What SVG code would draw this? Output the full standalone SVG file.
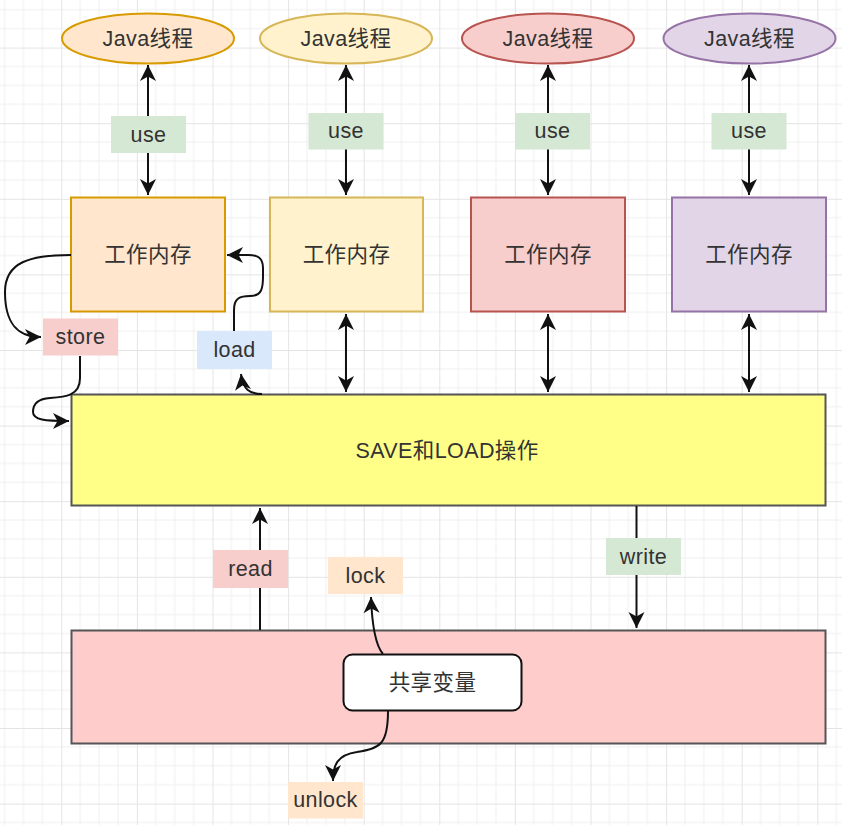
<svg xmlns="http://www.w3.org/2000/svg" width="842" height="825" viewBox="0 0 842 825">
<defs>
<pattern id="grid" width="75.6" height="75.6" patternUnits="userSpaceOnUse" patternTransform="translate(61.3,47.6)">
<path d="M18.9,0V75.6M37.8,0V75.6M56.7,0V75.6M0,18.9H75.6M0,37.8H75.6M0,56.7H75.6" stroke="#efefef" stroke-width="1" fill="none"/>
<path d="M0.5,0V75.6M0,0.5H75.6" stroke="#e4e4e4" stroke-width="1" fill="none"/>
</pattern>
<marker id="arr" viewBox="-17 -9 18 18" refX="0" refY="0" markerWidth="18" markerHeight="18" markerUnits="userSpaceOnUse" orient="auto-start-reverse">
<path d="M0,0 L-16,-8 L-11.5,0 L-16,8 Z" fill="#111"/>
</marker>
</defs>
<style>
text{font-family:"Liberation Sans","Noto Sans CJK SC",Arial,sans-serif;font-size:21.5px;fill:#333333;text-anchor:middle;dominant-baseline:central;letter-spacing:0.4px}
.c{fill:none;stroke:#111;stroke-width:2}
.lbl{stroke:none}
.node{stroke-width:2}
</style>
<rect width="842" height="825" fill="#ffffff"/>
<rect width="842" height="825" fill="url(#grid)"/>

<g id="thread1"><ellipse cx="148" cy="38.5" rx="86" ry="25" fill="#ffe6cc" stroke="#d79b00" class="node"/><text x="148" y="39">Java线程</text></g>
<g id="thread2"><ellipse cx="346" cy="38.5" rx="86" ry="25" fill="#fff2cc" stroke="#d6b656" class="node"/><text x="346" y="39">Java线程</text></g>
<g id="thread3"><ellipse cx="548" cy="38.5" rx="86" ry="25" fill="#f8cecc" stroke="#b85450" class="node"/><text x="548" y="39">Java线程</text></g>
<g id="thread4"><ellipse cx="749.5" cy="38.5" rx="86" ry="25" fill="#e1d5e7" stroke="#9673a6" class="node"/><text x="749.5" y="39">Java线程</text></g>

<g id="mem1"><rect x="71" y="197.5" width="154" height="114" fill="#ffe6cc" stroke="#d79b00" class="node"/><text x="148" y="255">工作内存</text></g>
<g id="mem2"><rect x="270" y="197.5" width="153" height="114" fill="#fff2cc" stroke="#d6b656" class="node"/><text x="346.5" y="255">工作内存</text></g>
<g id="mem3"><rect x="471" y="197.5" width="154" height="114" fill="#f8cecc" stroke="#b85450" class="node"/><text x="548" y="255">工作内存</text></g>
<g id="mem4"><rect x="672" y="197.5" width="154" height="114" fill="#e1d5e7" stroke="#9673a6" class="node"/><text x="749" y="255">工作内存</text></g>

<g id="saveload"><rect x="71.5" y="394.5" width="754" height="111" fill="#ffff88" stroke="#555" class="node"/><text x="447" y="451">SAVE和LOAD操作</text></g>
<g id="mainmem"><rect x="71.5" y="630.5" width="754" height="113" fill="#ffcccc" stroke="#555" class="node"/></g>

<g id="connectors">
<path class="c" d="M148,65 V195" marker-start="url(#arr)" marker-end="url(#arr)"/>
<path class="c" d="M346,65 V195" marker-start="url(#arr)" marker-end="url(#arr)"/>
<path class="c" d="M548,65 V195" marker-start="url(#arr)" marker-end="url(#arr)"/>
<path class="c" d="M749,65 V195" marker-start="url(#arr)" marker-end="url(#arr)"/>
<path class="c" d="M346,314 V392" marker-start="url(#arr)" marker-end="url(#arr)"/>
<path class="c" d="M548,314 V392" marker-start="url(#arr)" marker-end="url(#arr)"/>
<path class="c" d="M749,314 V392" marker-start="url(#arr)" marker-end="url(#arr)"/>
<path class="c" d="M71,255 C30,255 5,262 5,292 C5,322 16,337 41,337" marker-end="url(#arr)"/>
<path class="c" d="M80,356 L80,378 C80,396 65,397 50,398 C34,399 33,408 33,412 C33,420 45,421 69,421" marker-end="url(#arr)"/>
<path class="c" d="M234,331 L234,310 C234,298 240,296 250,296 C262,296 263,288 263,276 L263,268 C263,258 258,255 248,255 L227,255" marker-end="url(#arr)"/>
<path class="c" d="M262,394 C250,394 243,390 241,374" marker-end="url(#arr)"/>
<path class="c" d="M260,630 V508" marker-end="url(#arr)"/>
<path class="c" d="M636.5,506 V628" marker-end="url(#arr)"/>
<path class="c" d="M383,654 C376,646 372,625 371,597" marker-end="url(#arr)"/>
<path class="c" d="M388,711 C388,745 380,748 357,752 C337,755 333,765 333,781" marker-end="url(#arr)"/>
</g>

<g id="shared"><rect x="343.5" y="654.5" width="178" height="56" rx="9" fill="#ffffff" stroke="#111" class="node"/><text x="432.5" y="683">共享变量</text></g>

<g id="use1"><rect x="111" y="116" width="75" height="37" fill="#d5e8d4" class="lbl"/><text x="148.5" y="134.5">use</text></g>
<g id="use2"><rect x="308.5" y="113" width="75" height="36.5" fill="#d5e8d4" class="lbl"/><text x="346" y="131">use</text></g>
<g id="use3"><rect x="515" y="113" width="75" height="36.5" fill="#d5e8d4" class="lbl"/><text x="552.5" y="131">use</text></g>
<g id="use4"><rect x="711.5" y="113" width="75" height="36.5" fill="#d5e8d4" class="lbl"/><text x="749" y="131">use</text></g>
<g id="store"><rect x="43" y="318.5" width="75" height="37" fill="#f8cecc" class="lbl"/><text x="80.5" y="337">store</text></g>
<g id="load"><rect x="197" y="331" width="75" height="38" fill="#dae8fc" class="lbl"/><text x="234.5" y="350">load</text></g>
<g id="read"><rect x="213" y="550" width="75" height="38" fill="#f8cecc" class="lbl"/><text x="250.5" y="569">read</text></g>
<g id="lock"><rect x="328" y="557" width="75" height="37" fill="#ffe6cc" class="lbl"/><text x="365.5" y="576">lock</text></g>
<g id="write"><rect x="606" y="538" width="75" height="37" fill="#d5e8d4" class="lbl"/><text x="643.5" y="556.5">write</text></g>
<g id="unlock"><rect x="288" y="782" width="75" height="36.5" fill="#ffe6cc" class="lbl"/><text x="325.5" y="800">unlock</text></g>
</svg>
